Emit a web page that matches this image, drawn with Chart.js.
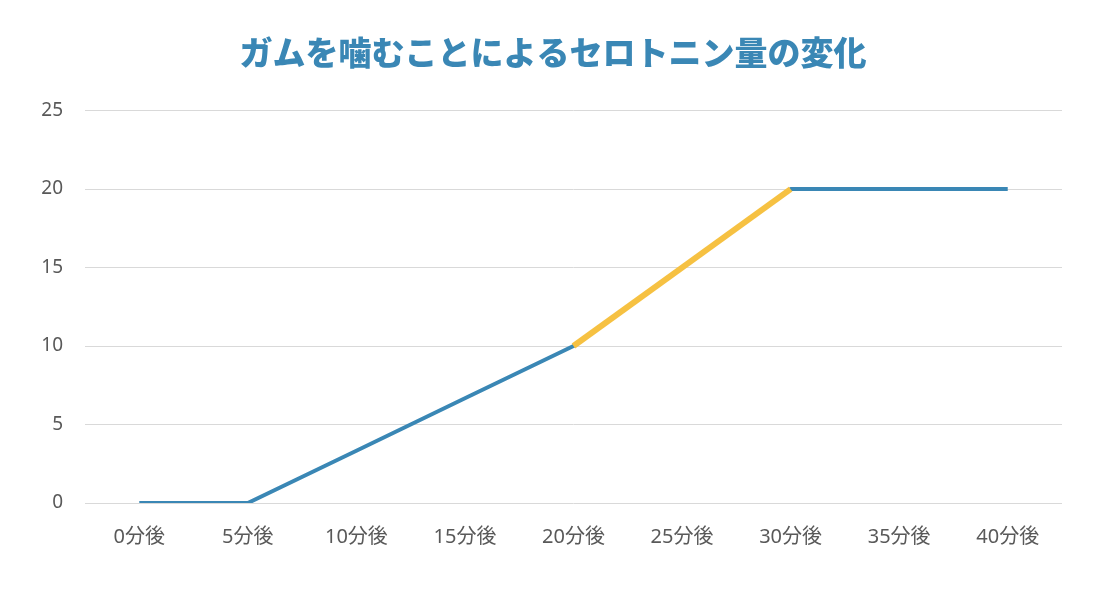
<!DOCTYPE html>
<html>
<head>
<meta charset="utf-8">
<script src="https://cdn.jsdelivr.net/npm/chart.js@4/dist/chart.umd.min.js"></script>
<style>
html,body{margin:0;padding:0;background:#fff;}
#wrap{width:1106px;height:600px;}
</style>
</head>
<body>
<div id="wrap"><canvas id="c" width="1106" height="600"></canvas></div>
<script>
const categories = ["0分後","5分後","10分後","15分後","20分後","25分後","30分後","35分後","40分後"];
const serotonin = [0, 0, 3.33, 6.67, 10, 15, 20, 20, 20];
const highlight = [null, null, null, null, 10, 15, 20, null, null];
const yTicks = [0, 5, 10, 15, 20, 25];
const titleText = "ガムを噛むことによるセロトニン量の変化";

const FONT = "'Noto Sans', 'Noto Sans CJK JP', sans-serif";
new Chart(document.getElementById('c'), {
  type: 'line',
  data: {
    labels: categories,
    datasets: [
      {
        data: highlight,
        borderColor: '#F6C142',
        borderWidth: 6,
        pointRadius: 0,
        tension: 0,
        spanGaps: false,
        borderCapStyle: 'butt',
        order: 0
      },
      {
        data: serotonin,
        borderColor: '#3A87B5',
        borderWidth: 4,
        pointRadius: 0,
        tension: 0,
        borderJoinStyle: 'round',
        order: 1
      }
    ]
  },
  options: {
    responsive: false,
    animation: false,
    layout: { padding: 0 },
    plugins: {
      legend: { display: false },
      tooltip: { enabled: false },
      title: {
        display: true,
        text: titleText,
        color: '#3A87B5',
        font: { family: "'Noto Sans CJK JP', sans-serif", size: 33, weight: '900', lineHeight: 1.2 },
        padding: { top: 33, bottom: 38 }
      }
    },
    scales: {
      x: {
        offset: true,
        grid: { display: false, drawTicks: false },
        border: { display: false },
        ticks: { color: '#595959', font: { family: FONT, size: 20 }, padding: 22, maxRotation: 0 },
        afterFit: s => { s.height = 97; }
      },
      y: {
        min: 0, max: 25,
        afterBuildTicks: s => { s.ticks = yTicks.map(v => ({ value: v })); },
        grid: { color: '#D9D9D9', lineWidth: 1, drawTicks: false },
        border: { display: false },
        ticks: { color: '#595959', font: { family: FONT, size: 19 }, padding: 22 },
        afterFit: s => { s.width = 85; }
      },
      yRight: {
        position: 'right',
        min: 0, max: 25,
        grid: { display: false, drawTicks: false },
        border: { display: false },
        ticks: { display: false },
        afterFit: s => { s.width = 44; }
      }
    }
  }
});
</script>
</body>
</html>
